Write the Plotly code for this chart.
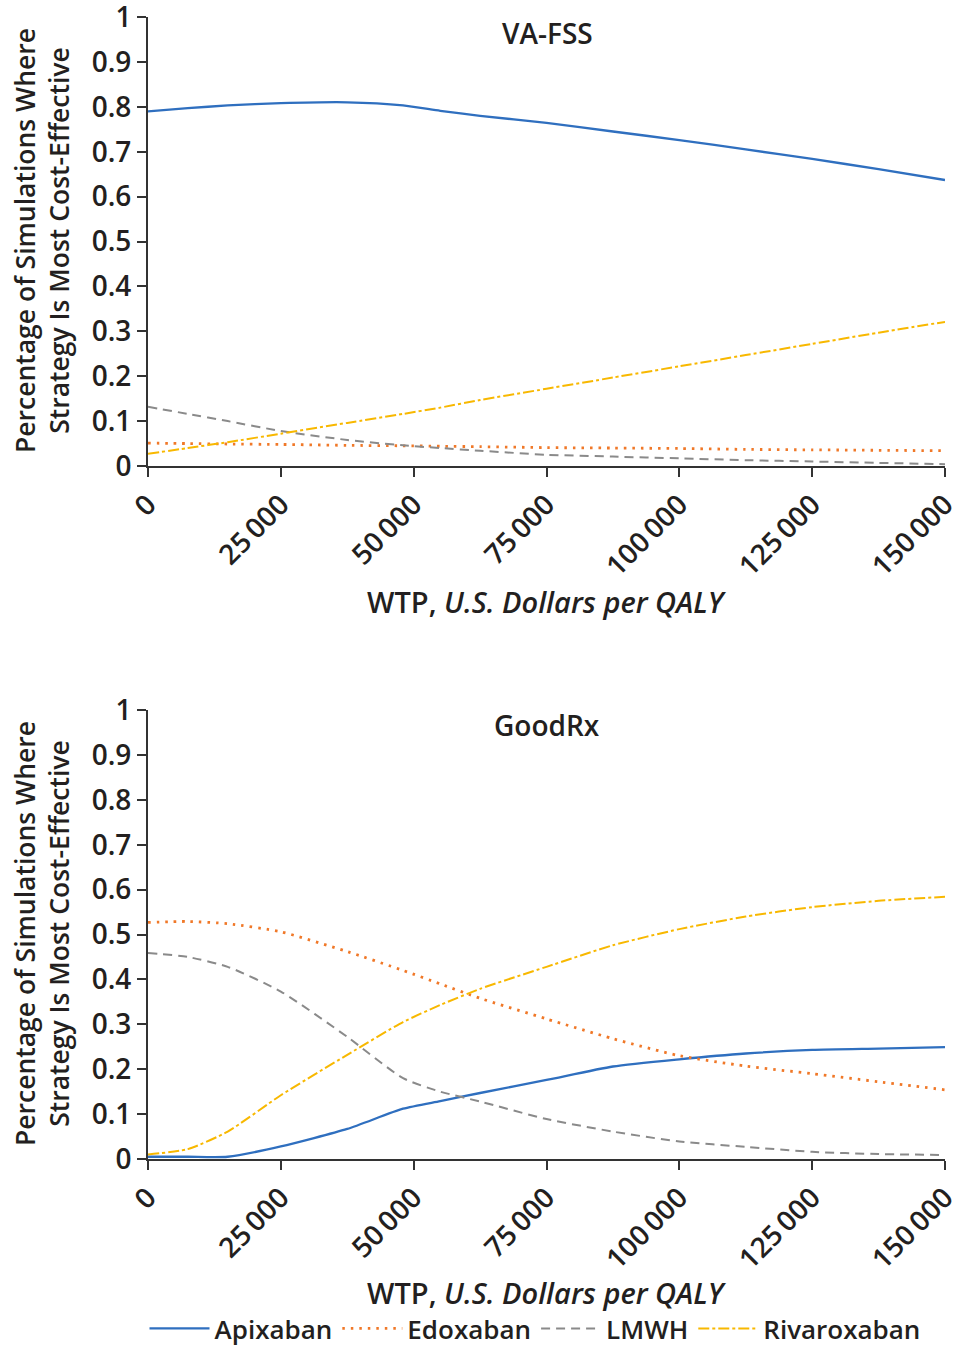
import plotly.graph_objects as go

# ---------------- data ----------------
wtp = [0, 7500, 15000, 25000, 37500, 48000, 55000, 62500, 75000, 87500,
       100000, 112500, 125000, 137500, 150000]

# VA-FSS panel
va_apixaban = [0.790, 0.797, 0.803, 0.808, 0.810, 0.803, 0.791, 0.780, 0.764, 0.745,
               0.726, 0.705, 0.684, 0.661, 0.637]
va_edoxaban = [0.051, 0.050, 0.049, 0.048, 0.046, 0.045, 0.044, 0.043, 0.041, 0.040,
               0.039, 0.037, 0.036, 0.035, 0.034]
va_lmwh = [0.132, 0.116, 0.100, 0.078, 0.058, 0.046, 0.040, 0.034, 0.025, 0.021,
           0.017, 0.013, 0.010, 0.007, 0.004]
va_rivaroxaban = [0.027, 0.040, 0.053, 0.072, 0.096, 0.116, 0.130, 0.147, 0.172, 0.197,
                  0.222, 0.247, 0.272, 0.297, 0.321]

# GoodRx panel
gr_apixaban = [0.005, 0.005, 0.005, 0.028, 0.067, 0.112, 0.129, 0.147, 0.176, 0.206,
               0.222, 0.235, 0.243, 0.246, 0.249]
gr_edoxaban = [0.527, 0.529, 0.524, 0.506, 0.462, 0.420, 0.390, 0.358, 0.312, 0.268,
               0.230, 0.207, 0.190, 0.172, 0.154]
gr_lmwh = [0.459, 0.450, 0.428, 0.373, 0.272, 0.180, 0.150, 0.128, 0.089, 0.061,
           0.039, 0.027, 0.016, 0.011, 0.009]
gr_rivaroxaban = [0.010, 0.022, 0.061, 0.142, 0.232, 0.305, 0.343, 0.379, 0.428, 0.476,
                  0.512, 0.540, 0.561, 0.575, 0.584]

series_names = ["Apixaban", "Edoxaban", "LMWH", "Rivaroxaban"]
panel_titles = ["VA-FSS", "GoodRx"]

x_tickvals = [0, 25000, 50000, 75000, 100000, 125000, 150000]
x_ticktext = ["0", "25\u2009000", "50\u2009000", "75\u2009000", "100\u2009000",
              "125\u2009000", "150\u2009000"]
y_tickvals = [0, 0.1, 0.2, 0.3, 0.4, 0.5, 0.6, 0.7, 0.8, 0.9, 1.0]
y_ticktext = ["0", "0.1", "0.2", "0.3", "0.4", "0.5", "0.6", "0.7", "0.8", "0.9", "1"]

# ---------------- styles ----------------
colors = {"Apixaban": "#2f6fbf", "Edoxaban": "#f07828", "LMWH": "#8a8a8a",
          "Rivaroxaban": "#f8b800"}
dashes = {"Apixaban": "solid", "Edoxaban": "2.5px,6px", "LMWH": "9px,6px",
          "Rivaroxaban": "11px,3px,3px,3px"}
widths = {"Apixaban": 2.3, "Edoxaban": 2.8, "LMWH": 2, "Rivaroxaban": 2}
FONT = "Open Sans"
TXT = "#231f20"

fig = go.Figure()

panels = [
    ("x", "y", [va_apixaban, va_edoxaban, va_lmwh, va_rivaroxaban]),
    ("x2", "y2", [gr_apixaban, gr_edoxaban, gr_lmwh, gr_rivaroxaban]),
]
for pi, (xa, ya, vals) in enumerate(panels):
    for name, v in zip(series_names, vals):
        fig.add_trace(go.Scatter(
            x=wtp, y=v, mode="lines", name=name, xaxis=xa, yaxis=ya,
            showlegend=(pi == 1),
            line=dict(color=colors[name], dash=dashes[name], width=widths[name],
                      shape="spline", smoothing=0.6),
        ))

# body margin is removed by the post script, so page pixels == figure pixels
W, H = 965, 1353


def px(x):
    return x / W


def py(y):
    return (H - y) / H


xdom = [px(148), px(945)]
top_dom = [py(466), py(17)]
bot_dom = [py(1159), py(710)]

axis_common = dict(showline=True, linecolor="#333333", linewidth=2, ticks="outside",
                   tickcolor="#333333", tickwidth=2, ticklen=9, showgrid=False,
                   zeroline=False, automargin=False, ticklabeloverflow="allow",
                   tickfont=dict(family=FONT, size=28, color=TXT, weight=600))

fig.update_layout(
    width=W, height=H, paper_bgcolor="white", plot_bgcolor="white",
    margin=dict(l=0, r=0, t=0, b=0),
    font=dict(family=FONT, color=TXT),
    xaxis=dict(domain=xdom, anchor="y", range=[0, 150000], tickvals=x_tickvals,
               ticktext=x_ticktext, tickangle=-45, **axis_common),
    yaxis=dict(domain=top_dom, anchor="x", range=[0, 1], tickvals=y_tickvals,
               ticktext=y_ticktext, **axis_common),
    xaxis2=dict(domain=xdom, anchor="y2", range=[0, 150000], tickvals=x_tickvals,
                ticktext=x_ticktext, tickangle=-45, **axis_common),
    yaxis2=dict(domain=bot_dom, anchor="x2", range=[0, 1], tickvals=y_tickvals,
                ticktext=y_ticktext, **axis_common),
    legend=dict(orientation="h", x=px(535), xanchor="center", y=py(1352),
                yanchor="bottom",
                font=dict(family=FONT, size=26, color=TXT, weight=600),
                itemwidth=60, tracegroupgap=0, bgcolor="rgba(0,0,0,0)"),
)

ytitle = "Percentage of Simulations Where<br>Strategy Is Most Cost-Effective"
xtitle = "WTP, <i>U.S. Dollars per QALY</i>"
for title, ytop_px, ycenter_px, xt_px in [(panel_titles[0], 33, 241, 601),
                                           (panel_titles[1], 725, 934, 1292)]:
    fig.add_annotation(text=title, xref="paper", yref="paper", x=px(547),
                       y=py(ytop_px), showarrow=False, xanchor="center",
                       yanchor="middle",
                       font=dict(family=FONT, size=28, color=TXT, weight=600))
    fig.add_annotation(text=ytitle, xref="paper", yref="paper", x=px(42),
                       y=py(ycenter_px), showarrow=False, textangle=-90,
                       xanchor="center", yanchor="middle",
                       font=dict(family=FONT, size=26.5, color=TXT, weight=600))
    fig.add_annotation(text=xtitle, xref="paper", yref="paper", x=px(547),
                       y=py(xt_px), showarrow=False, xanchor="center",
                       yanchor="middle",
                       font=dict(family=FONT, size=29, color=TXT, weight=600))

fig.write_html("out.html", config={"displayModeBar": False},
               post_script="document.body.style.margin='0';"
                           "document.body.style.overflow='hidden';")
